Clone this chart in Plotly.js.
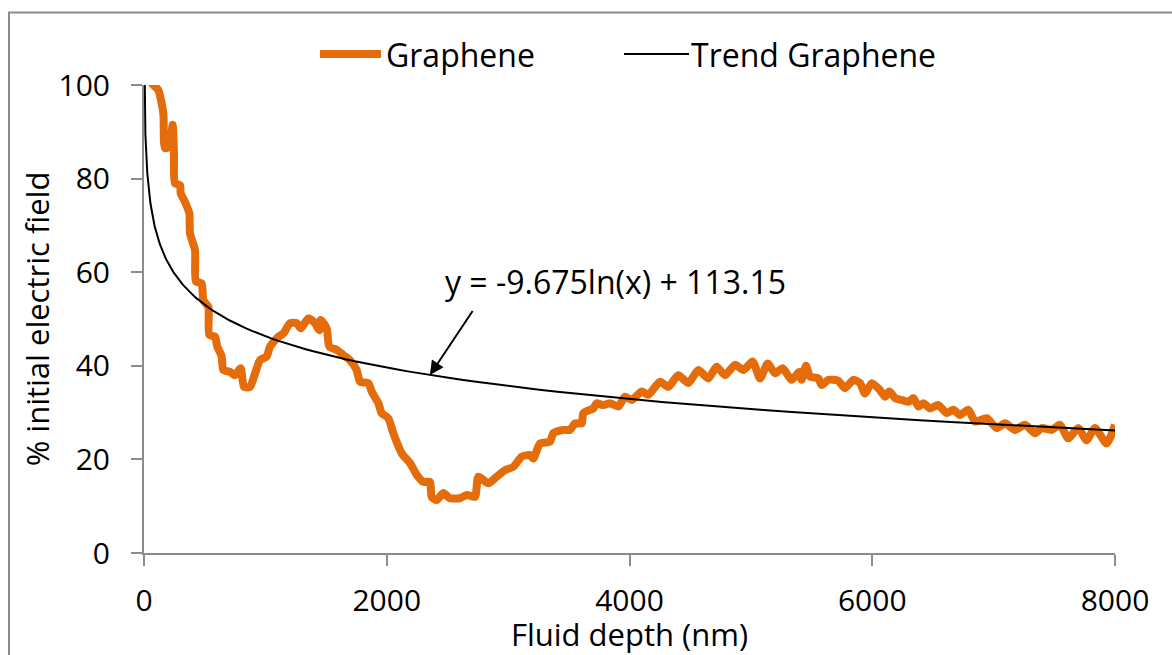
<!DOCTYPE html>
<html>
<head>
<meta charset="utf-8">
<script src="https://cdn.plot.ly/plotly-3.0.1.min.js"></script>
<style>
  html, body { margin: 0; padding: 0; background: #fff; }
  #chart { width: 1172px; height: 655px; }
</style>
</head>
<body>
<div id="chart"></div>
<script>
// Fluid depth (nm) and % of initial electric field for graphene
const depthNm = [
  30, 63, 118, 159, 173, 208, 236, 247, 255, 297, 302, 338, 373, 379, 420, 428,
  475, 489, 530, 538, 585, 604, 640, 653, 709, 750, 796, 824, 873, 915, 956,
  1011, 1038, 1107, 1148, 1203, 1258, 1291, 1354, 1409, 1444, 1456, 1505, 1527,
  1588, 1642, 1697, 1752, 1780, 1848, 1876, 1931, 1958, 2013, 2054, 2123, 2192,
  2247, 2301, 2356, 2370, 2411, 2466, 2521, 2604, 2659, 2727, 2755, 2837, 2906,
  2974, 3043, 3112, 3180, 3208, 3263, 3345, 3372, 3455, 3510, 3551, 3606, 3620,
  3702, 3730, 3784, 3839, 3908, 3963, 4018, 4100, 4155, 4251, 4320, 4402, 4485,
  4567, 4649, 4718, 4787, 4869, 4938, 5015, 5075, 5139, 5199, 5262, 5336, 5399,
  5418, 5454, 5487, 5556, 5583, 5638, 5720, 5775, 5844, 5899, 5940, 5996, 6064,
  6105, 6141, 6188, 6243, 6297, 6339, 6380, 6421, 6476, 6544, 6613, 6668, 6723,
  6792, 6847, 6943, 7025, 7094, 7176, 7258, 7341, 7396, 7478, 7547, 7615, 7697,
  7766, 7835, 7931, 8000
];
const fieldPct = [
  102, 100.4, 98.9, 94, 86.5, 86.8, 91.5, 85.4, 79, 78.6, 76.9, 75, 72.6, 68.3, 64.7, 58,
  57.6, 54, 52.6, 46.6, 46.2, 44.1, 42, 39.1, 38.7, 38, 39.5, 35.5, 35.5, 38.4, 41.2,
  42, 44.1, 46.2, 46.9, 49.1, 49.1, 48, 50.1, 49.1, 47.6, 49.8, 48, 44.1,
  43.4, 42.3, 41.2, 39.1, 36.6, 36.3, 34.5, 32, 29.9, 28.8, 25.6, 21.3, 19.2,
  16.7, 15.2, 15.2, 12, 11.3, 12.8, 11.7, 11.7, 12.4, 12, 16.3, 14.9, 16.3,
  17.7, 18.4, 20.6, 20.9, 20.2, 23.4, 23.8, 25.6, 26.3, 26.3, 27.7, 27.7, 29.9,
  30.9, 32, 31.6, 32, 31.3, 33.4, 32.7, 34.5, 33.8, 36.6, 35.5, 38, 36.3,
  39.1, 37.3, 39.8, 38, 40.2, 39.1, 40.9, 37.3, 40.5, 38.4, 39.5, 37, 38.7,
  37, 40, 37.7, 37.3, 35.9, 37, 36.8, 35.2, 37, 36.3, 34.1, 36.3, 34.8,
  33.4, 34.5, 33.1, 32.7, 32.3, 33.1, 31.3, 32, 30.9, 31.6, 29.9, 30.6, 29.5,
  30.6, 28.1, 28.8, 26.7, 27.7, 26.3, 27.4, 25.6, 26.7, 26.3, 27.4, 24.5, 26.7,
  24.1, 26.7, 23.4, 27.4
];

// Logarithmic trend fitted to the graphene series: y = a*ln(x) + b
const trendA = -9.675;
const trendB = 113.15;
const trendLabel = 'y = -9.675ln(x) + 113.15';
const arrowDepth = 2356;

const seriesNames = ['Graphene', 'Trend Graphene'];
const xTicks = [0, 2000, 4000, 6000, 8000];
const yTicks = [0, 20, 40, 60, 80, 100];

const trendX = [];
for (let i = 0; i <= 200; i++) trendX.push(Math.pow(8000, i / 200));
const trendY = trendX.map(x => trendA * Math.log(x) + trendB);

const orange = '#E46C0A';
const axisGray = '#8C8C8C';
const font = 'Open Sans, Noto Sans, sans-serif';

const traces = [
  {
    x: depthNm, y: fieldPct, name: seriesNames[0], type: 'scatter', mode: 'lines',
    line: { color: orange, width: 8, shape: 'spline', smoothing: 0.6 },
    showlegend: false, hoverinfo: 'x+y'
  },
  {
    x: trendX, y: trendY, name: seriesNames[1], type: 'scatter', mode: 'lines',
    line: { color: '#000', width: 2 },
    showlegend: false, hoverinfo: 'x+y'
  }
];

// helpers to place items in paper units around the plot area
const L = 144, R = 57, T = 85, B = 102, W = 1172, H = 655;
const pw = W - L - R, ph = H - T - B;
const px = v => (v - L) / pw;
const py = v => (H - B - v) / ph;

const layout = {
  width: W, height: H,
  margin: { l: L, r: R, t: T, b: B, pad: 0 },
  paper_bgcolor: '#fff', plot_bgcolor: '#fff',
  font: { family: font, color: '#000', size: 31 },
  showlegend: false,
  xaxis: {
    range: [0, 8000], tickvals: xTicks, ticktext: xTicks.map(String),
    showgrid: false, zeroline: false,
    showline: true, linecolor: axisGray, linewidth: 2,
    ticks: 'outside', ticklen: 11, tickwidth: 2, tickcolor: axisGray,
    tickfont: { family: font, size: 30, color: '#000' },
    ticklabelstandoff: 9,
    title: { text: 'Fluid depth (nm)', font: { family: font, size: 31, color: '#000' } }
  },
  yaxis: {
    range: [0, 100], tickvals: yTicks, ticktext: yTicks.map(String),
    showgrid: false, zeroline: false,
    showline: true, linecolor: axisGray, linewidth: 2,
    ticks: 'outside', ticklen: 11, tickwidth: 2, tickcolor: axisGray,
    tickfont: { family: font, size: 30, color: '#000' },
    ticklabelstandoff: 15,
    automargin: true,
    title: { text: '% initial electric field', font: { family: font, size: 31, color: '#000' }, standoff: 0 }
  },
  shapes: [
    // chart frame
    { type: 'rect', xref: 'paper', yref: 'paper',
      x0: px(9), x1: px(1200), y0: py(12.5), y1: py(680),
      line: { color: axisGray, width: 2 }, fillcolor: 'rgba(0,0,0,0)' },
    // legend keys
    { type: 'line', xref: 'paper', yref: 'paper',
      x0: px(320), x1: px(381), y0: py(54), y1: py(54),
      line: { color: orange, width: 8 } },
    { type: 'line', xref: 'paper', yref: 'paper',
      x0: px(624), x1: px(689), y0: py(54), y1: py(54),
      line: { color: '#000', width: 2 } }
  ],
  annotations: [
    { xref: 'paper', yref: 'paper', x: px(384), y: py(54), xanchor: 'left', yanchor: 'middle',
      text: seriesNames[0], showarrow: false, font: { family: font, size: 32, color: '#000' } },
    { xref: 'paper', yref: 'paper', x: px(689), y: py(54), xanchor: 'left', yanchor: 'middle',
      text: seriesNames[1], showarrow: false, font: { family: font, size: 32, color: '#000' } },
    // trendline equation
    { xref: 'paper', yref: 'paper', x: px(443), y: py(281), xanchor: 'left', yanchor: 'middle',
      text: trendLabel, showarrow: false, font: { family: font, size: 32, color: '#000' } },
    // arrow pointing at the trend line
    { x: arrowDepth, y: trendA * Math.log(arrowDepth) + trendB, xref: 'x', yref: 'y',
      text: ' ', showarrow: true, arrowhead: 2, arrowsize: 1.4, arrowwidth: 2,
      arrowcolor: '#000', ax: 44, ay: -66, standoff: 0, startstandoff: 0,
      font: { size: 1 } }
  ]
};

Plotly.newPlot('chart', traces, layout, { displayModeBar: false, staticPlot: true });
</script>
</body>
</html>
